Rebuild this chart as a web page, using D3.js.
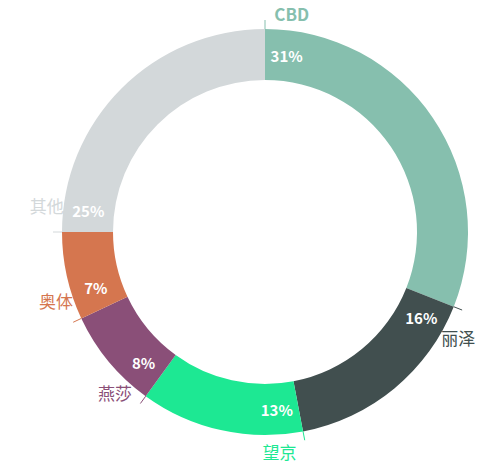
<!DOCTYPE html>
<html><head><meta charset="utf-8">
<script src="https://cdn.jsdelivr.net/npm/d3@7"></script>
<style>body{margin:0;background:#fff}</style></head>
<body><svg id="c" width="500" height="467"></svg>
<script>
const categories=["CBD","丽泽","望京","燕莎","奥体","其他"];
const values=[31,16,13,8,7,25];
const colors=["#86bfae","#414f4f","#1de893","#8a4f78","#d5764f","#d3d8da"];
const svg=d3.select("#c");
const g=svg.append("g").attr("transform","translate(265,232)");
const pie=d3.pie().sort(null).value(d=>d)(values);
const arc=d3.arc().innerRadius(152).outerRadius(203);
g.selectAll("path").data(pie).join("path").attr("d",arc).attr("fill",(d,i)=>colors[i]);
const off=7*Math.PI/180;
const pos=(a,r)=>[r*Math.sin(a),-r*Math.cos(a)];
g.selectAll("line").data(pie).join("line")
 .attr("x1",d=>pos(d.startAngle,203)[0]).attr("y1",d=>pos(d.startAngle,203)[1])
 .attr("x2",d=>pos(d.startAngle,212)[0]).attr("y2",d=>pos(d.startAngle,212)[1])
 .attr("stroke",(d,i)=>colors[i]).attr("stroke-width",1);
g.selectAll("text.p").data(pie).join("text").attr("class","p")
 .attr("x",d=>pos(d.startAngle+off,178)[0]).attr("y",d=>pos(d.startAngle+off,178)[1])
 .attr("text-anchor","middle").attr("dominant-baseline","central")
 .attr("fill","#fff").attr("font-family","Noto Sans CJK SC, sans-serif").attr("font-size",15).attr("font-weight","bold")
 .text(d=>d.data+"%");
g.selectAll("text.n").data(pie).join("text").attr("class","n")
 .attr("x",d=>pos(d.startAngle+off,220)[0]).attr("y",d=>pos(d.startAngle+off,220)[1])
 .attr("text-anchor","middle").attr("dominant-baseline","central")
 .attr("fill",(d,i)=>colors[i]).attr("font-family","Noto Sans CJK SC, sans-serif").attr("font-size",17).attr("font-weight",(d,i)=>i==0?"bold":"normal")
 .text((d,i)=>categories[i]);
</script></body></html>
